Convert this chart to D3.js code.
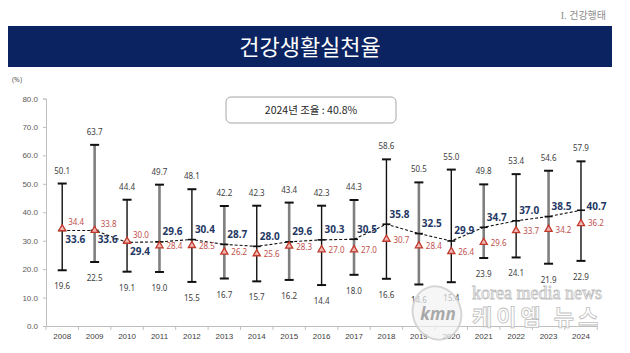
<!DOCTYPE html>
<html>
<head>
<meta charset="utf-8">
<script src="https://cdn.jsdelivr.net/npm/d3@7"></script>
<style>
  body { margin: 0; background: #fff; }
  svg { display: block; font-family: "Noto Sans", "Noto Sans CJK KR", sans-serif; }
</style>
</head>
<body>
<svg id="chart" width="630" height="353"></svg>
<script>
// years + values
var years = [2008, 2009, 2010, 2011, 2012, 2013, 2014, 2015, 2016, 2017, 2018, 2019, 2020, 2021, 2022, 2023, 2024];
var maxVals = [50.1, 63.7, 44.4, 49.7, 48.1, 42.2, 42.3, 43.4, 42.3, 44.3, 58.6, 50.5, 55.0, 49.8, 53.4, 54.6, 57.9];
var minVals = [19.6, 22.5, 19.1, 19.0, 15.5, 16.7, 15.7, 16.2, 14.4, 18.0, 16.6, 14.6, 15.4, 23.9, 24.1, 21.9, 22.9];
var regionVals = [33.6, 33.6, 29.4, 29.6, 30.4, 28.7, 28.0, 29.6, 30.3, 30.5, 35.8, 32.5, 29.9, 34.7, 37.0, 38.5, 40.7];
var crudeVals = [34.4, 33.8, 30.0, 28.4, 28.5, 26.2, 25.6, 28.3, 27.0, 27.0, 30.7, 28.4, 26.4, 29.6, 33.7, 34.2, 36.2];
var yTicks = [0, 10, 20, 30, 40, 50, 60, 70, 80];
var labelsBelow = [2008, 2009, 2010]; // navy labels sit under the line here

var svg = d3.select("#chart");

// header
var hdr = svg.append("text")
  .attr("x", 606).attr("y", 19)
  .attr("text-anchor", "end")
  .attr("font-family", "Noto Sans CJK KR")
  .attr("font-size", 10)
  .attr("fill", "#8c8c8c");
hdr.append("tspan").attr("font-family", "Liberation Serif").text("I. ");
hdr.append("tspan").text("건강행태");

svg.append("rect")
  .attr("x", 8).attr("y", 26)
  .attr("width", 604).attr("height", 41)
  .attr("fill", "#0b2360");

svg.append("text")
  .attr("x", 310).attr("y", 55)
  .attr("text-anchor", "middle")
  .attr("font-family", "Noto Sans CJK KR")
  .attr("font-size", 22)
  .attr("fill", "#fff")
  .text("건강생활실천율");

// scales
var x = d3.scaleBand().domain(years).range([46, 597.2]).padding(0);
var y = d3.scaleLinear().domain([0, 80]).range([326, 98.5]);
var cx = function(yr) { return x(yr) + x.bandwidth() / 2; };

// y axis
var yAxis = svg.append("g")
  .attr("transform", "translate(46,0)")
  .call(d3.axisLeft(y).tickValues(yTicks).tickFormat(d3.format(".1f")).tickSize(3).tickPadding(5));
yAxis.select(".domain").attr("stroke", "#bfbfbf");
yAxis.selectAll(".tick line").attr("stroke", "#bfbfbf");
yAxis.selectAll("text").attr("font-size", 8).attr("fill", "#595959");

svg.append("text")
  .attr("x", 12).attr("y", 82)
  .attr("font-size", 7)
  .attr("fill", "#595959")
  .text("(%)");

// x axis
var xAxis = svg.append("g")
  .attr("transform", "translate(0,326)")
  .call(d3.axisBottom(x).tickSize(0).tickPadding(7));
xAxis.select(".domain").attr("stroke", "#bfbfbf");
xAxis.selectAll("text").attr("font-size", 8).attr("fill", "#404040");
xAxis.selectAll(".sep")
  .data(years.concat([null]))
  .enter().append("line")
  .attr("class", "sep")
  .attr("x1", function(d, i) { return 46 + i * x.bandwidth(); })
  .attr("x2", function(d, i) { return 46 + i * x.bandwidth(); })
  .attr("y1", 0).attr("y2", 4)
  .attr("stroke", "#bfbfbf");

// legend box
svg.append("rect")
  .attr("x", 226).attr("y", 97)
  .attr("width", 170).attr("height", 26)
  .attr("rx", 5)
  .attr("fill", "#fff")
  .attr("stroke", "#a6a6a6");
svg.append("text")
  .attr("x", 311).attr("y", 114)
  .attr("text-anchor", "middle")
  .attr("font-family", "Noto Sans CJK KR")
  .attr("font-size", 10.5)
  .attr("fill", "#262626")
  .text("2024년 조율 : 40.8%");

// whiskers (min-max range)
var bars = svg.append("g").selectAll("g")
  .data(years)
  .enter().append("g");

bars.append("line")
  .attr("x1", cx).attr("x2", cx)
  .attr("y1", function(d, i) { return y(maxVals[i]); })
  .attr("y2", function(d, i) { return y(minVals[i]); })
  .attr("stroke", function(d, i) { return i % 2 ? "#7f7f7f" : "#111"; })
  .attr("stroke-width", function(d, i) { return i % 2 ? 2.6 : 1.4; });

bars.append("line")
  .attr("x1", function(d) { return cx(d) - 4.5; })
  .attr("x2", function(d) { return cx(d) + 4.5; })
  .attr("y1", function(d, i) { return y(maxVals[i]); })
  .attr("y2", function(d, i) { return y(maxVals[i]); })
  .attr("stroke", "#111").attr("stroke-width", 2);

bars.append("line")
  .attr("x1", function(d) { return cx(d) - 4.5; })
  .attr("x2", function(d) { return cx(d) + 4.5; })
  .attr("y1", function(d, i) { return y(minVals[i]); })
  .attr("y2", function(d, i) { return y(minVals[i]); })
  .attr("stroke", "#111").attr("stroke-width", 2);

bars.append("text")
  .attr("x", cx)
  .attr("y", function(d, i) { return y(maxVals[i]) - 10; })
  .attr("text-anchor", "middle")
  .attr("font-size", 8)
  .attr("fill", "#404040")
  .text(function(d, i) { return maxVals[i].toFixed(1); });

bars.append("text")
  .attr("x", cx)
  .attr("y", function(d, i) { return y(minVals[i]) + 19; })
  .attr("text-anchor", "middle")
  .attr("font-size", 8)
  .attr("fill", "#404040")
  .text(function(d, i) { return minVals[i].toFixed(1); });

// dashed line for region values
var line = d3.line()
  .x(function(d, i) { return cx(years[i]); })
  .y(function(d) { return y(d); });

svg.append("path")
  .datum(regionVals)
  .attr("d", line)
  .attr("fill", "none")
  .attr("stroke", "#111")
  .attr("stroke-width", 1.1)
  .attr("stroke-dasharray", "3,2");

svg.append("g").selectAll("line")
  .data(regionVals)
  .enter().append("line")
  .attr("x1", function(d, i) { return cx(years[i]) - 4; })
  .attr("x2", function(d, i) { return cx(years[i]) + 4; })
  .attr("y1", function(d) { return y(d); })
  .attr("y2", function(d) { return y(d); })
  .attr("stroke", "#111").attr("stroke-width", 1.6);

// red triangles (crude rate)
var tri = d3.symbol().type(d3.symbolTriangle).size(22);
svg.append("g").selectAll("path")
  .data(crudeVals)
  .enter().append("path")
  .attr("d", tri)
  .attr("transform", function(d, i) { return "translate(" + cx(years[i]) + "," + (y(d) + 0.5) + ")"; })
  .attr("fill", "#f0b8b4")
  .attr("stroke", "#c0392b")
  .attr("stroke-width", 1.3);

svg.append("g").selectAll("text")
  .data(crudeVals)
  .enter().append("text")
  .attr("x", function(d, i) { return cx(years[i]) + (labelsBelow.indexOf(years[i]) >= 0 ? 6 : 7); })
  .attr("y", function(d, i) {
    if (labelsBelow.indexOf(years[i]) >= 0) return y(d) - 3;
    return y(d) + (years[i] === 2024 ? 3 : 4);
  })
  .attr("font-size", 8)
  .attr("fill", "#c0504d")
  .text(function(d) { return d.toFixed(1); });

// navy labels
svg.append("g").selectAll("text")
  .data(regionVals)
  .enter().append("text")
  .attr("x", function(d, i) { return cx(years[i]) + (years[i] === 2024 ? 5.5 : 3); })
  .attr("y", function(d, i) {
    if (labelsBelow.indexOf(years[i]) >= 0) return y(d) + 13;
    if (years[i] === 2024) return y(d) - 0.5;
    return y(d) - 6.5;
  })
  .attr("font-size", 10)
  .attr("font-weight", "bold")
  .attr("fill", "#1f3864")
  .text(function(d) { return d.toFixed(1); });

// watermark
var wm = svg.append("g").attr("opacity", 0.85);
wm.append("ellipse")
  .attr("cx", 437).attr("cy", 313)
  .attr("rx", 24).attr("ry", 27)
  .attr("transform", "rotate(-20,437,313)")
  .attr("fill", "#f2f2f2").attr("fill-opacity", 0.8)
  .attr("stroke", "#d0d0d0").attr("stroke-width", 2);
wm.append("text")
  .attr("x", 438).attr("y", 320)
  .attr("text-anchor", "middle")
  .attr("font-size", 17).attr("font-weight", "bold").attr("font-style", "italic")
  .attr("fill", "#9a9a9a")
  .text("kmn");
wm.append("text")
  .attr("x", 472).attr("y", 299)
  .attr("font-family", "Liberation Serif")
  .attr("font-size", 18)
  .attr("fill", "#fff").attr("stroke", "#b5b5b5").attr("stroke-width", 0.8)
  .text("korea media news");
wm.append("text")
  .attr("x", 472).attr("y", 325)
  .attr("font-family", "Noto Sans CJK KR")
  .attr("font-size", 22).attr("font-weight", "bold")
  .attr("letter-spacing", 4)
  .attr("fill", "#fff").attr("stroke", "#b5b5b5").attr("stroke-width", 0.8)
  .text("케이엠 뉴스");
</script>
</body>
</html>
